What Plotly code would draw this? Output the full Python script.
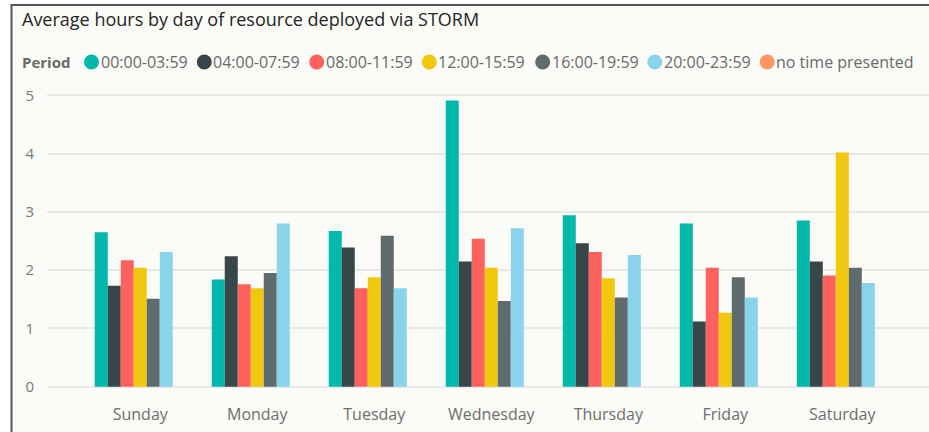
import plotly.graph_objects as go

days = ["Sunday", "Monday", "Tuesday", "Wednesday", "Thursday", "Friday", "Saturday"]
periods = ["00:00-03:59", "04:00-07:59", "08:00-11:59", "12:00-15:59",
           "16:00-19:59", "20:00-23:59", "no time presented"]
colors = ["#01B8AA", "#374649", "#FD625E", "#F2C80F", "#5F6B6D", "#8AD4EB", "#FE9666"]

p0003 = [2.65, 1.84, 2.67, 4.91, 2.94, 2.80, 2.85]
p0407 = [1.73, 2.24, 2.39, 2.15, 2.46, 1.12, 2.15]
p0811 = [2.17, 1.76, 1.69, 2.54, 2.31, 2.04, 1.91]
p1215 = [2.04, 1.69, 1.88, 2.04, 1.86, 1.27, 4.02]
p1619 = [1.51, 1.95, 2.59, 1.47, 1.53, 1.88, 2.04]
p2023 = [2.31, 2.80, 1.69, 2.72, 2.26, 1.53, 1.78]
p_none = [None] * 7

series = [p0003, p0407, p0811, p1215, p1619, p2023, p_none]

W, H = 929, 432
L, R, T, B = 47, 0, 90, 40
PW, PH = W - L - R, H - T - B
FONT = "Segoe UI, Open Sans, sans-serif"


def xp(px):
    return (px - L) / PW


def yp(py):
    return (H - B - py) / PH


fig = go.Figure()
for name, vals, col in zip(periods, series, colors):
    fig.add_trace(go.Bar(x=days, y=vals, name=name, marker=dict(color=col, line=dict(width=0)),
                         showlegend=False))

shapes = [dict(type="rect", xref="paper", yref="paper", x0=xp(11.5), x1=xp(945),
               y0=yp(445), y1=yp(5), fillcolor="#FBFBF7", line=dict(color="#555555", width=2),
               layer="below")]

annotations = [dict(text="<b>Period</b>", xref="paper", yref="paper", x=xp(20), y=yp(62),
                    xanchor="left", yanchor="middle", showarrow=False,
                    font=dict(family=FONT, size=15, color="#6A6A6A"))]

circle_cx = [91.5, 204.3, 316.7, 429.3, 542.7, 654.8, 767.2]
for name, col, cx in zip(periods, colors, circle_cx):
    shapes.append(dict(type="circle", xref="paper", yref="paper", xsizemode="pixel", ysizemode="pixel",
                       xanchor=xp(cx), yanchor=yp(62), x0=-7.5, x1=7.5, y0=-7.5, y1=7.5,
                       fillcolor=col, line=dict(width=0)))
    annotations.append(dict(text=name, xref="paper", yref="paper", x=xp(cx + 7), y=yp(62),
                            xanchor="left", yanchor="middle", showarrow=False,
                            font=dict(family=FONT, size=16, color="#6A6A6A")))

fig.update_layout(
    width=W, height=H,
    margin=dict(l=L, r=R, t=T, b=B, pad=0),
    paper_bgcolor="white",
    plot_bgcolor="rgba(0,0,0,0)",
    barmode="group", bargap=0.222, bargroupgap=0,
    title=dict(text="Average hours by day of resource deployed via STORM",
               x=22 / W, xref="container", xanchor="left",
               y=1 - 20 / H, yref="container", yanchor="middle",
               font=dict(family=FONT, size=18, color="#252525")),
    shapes=shapes,
    annotations=annotations,
    xaxis=dict(range=[-0.797, 6.741], showgrid=False, zeroline=False, showline=False,
               tickfont=dict(family=FONT, size=16, color="#6E6E6E"),
               ticklabelstandoff=11),
    yaxis=dict(range=[-0.091, 5.091], tickvals=[0, 1, 2, 3, 4, 5], showgrid=True,
               gridcolor="#E8E8E8", gridwidth=1.5, zeroline=False, showline=False,
               tickfont=dict(family=FONT, size=15, color="#7A7A7A"),
               ticklabelstandoff=12),
    showlegend=False,
)

fig.write_html("out.html", config={"displayModeBar": False},
               post_script="document.body.style.margin='0';document.body.style.overflow='hidden';")
